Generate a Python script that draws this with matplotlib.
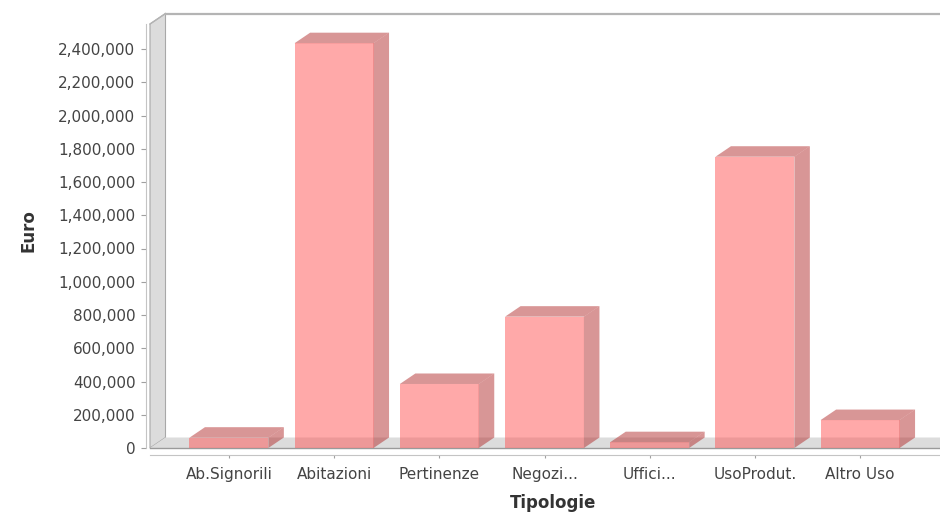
import matplotlib
matplotlib.use("Agg")
import matplotlib.pyplot as plt
from matplotlib.patches import Polygon
from matplotlib.ticker import FuncFormatter

categories = ["Ab.Signorili", "Abitazioni", "Pertinenze", "Negozi...", "Uffici...", "UsoProdut.", "Altro Uso"]
values = [62000, 2435000, 385000, 790000, 35000, 1752000, 168000]
y_ticks = [0, 200000, 400000, 600000, 800000, 1000000, 1200000, 1400000,
           1600000, 1800000, 2000000, 2200000, 2400000]

W, H = 940, 514
fig = plt.figure(figsize=(W / 100, H / 100), dpi=100)
fig.patch.set_facecolor("white")

# front data area in pixels
x0, x1, yb, yt = 150, 939, 448, 24
ax = fig.add_axes([x0 / W, (H - yb) / H, (x1 - x0) / W, (yb - yt) / H])
ax.set_facecolor("none")

xmin, xmax = -0.75, 6.75
ymax = 2400000 * (yb - yt) / (448 - 49)
ax.set_xlim(xmin, xmax)
ax.set_ylim(0, ymax)

px_x = (xmax - xmin) / (x1 - x0)
px_y = ymax / (yb - yt)
DX = 15.5 * px_x
DY = 10.5 * px_y

wall_col = "#dcdcdc"
edge_col = "#a8a8a8"

# left wall
ax.add_patch(Polygon([(xmin, 0), (xmin, ymax), (xmin + DX, ymax + DY), (xmin + DX, DY)],
                     closed=True, facecolor=wall_col, edgecolor=edge_col, lw=0.8,
                     clip_on=False, zorder=1))
# floor
ax.add_patch(Polygon([(xmin, 0), (xmax + 2, 0), (xmax + 2 + DX, DY), (xmin + DX, DY)],
                     closed=True, facecolor=wall_col, edgecolor="none", lw=0,
                     clip_on=False, zorder=1))
ax.plot([xmin, xmax + 2], [0, 0], color="#9a9a9a", lw=1.0, clip_on=False, zorder=1.5)
# top outline of back plane
ax.plot([xmin + DX, xmax + 2], [ymax + DY, ymax + DY], color="#b4b4b4", lw=1.6,
        clip_on=False, zorder=1.5)
ax.plot([xmin, xmin + DX], [ymax, ymax + DY], color="#b4b4b4", lw=1.0,
        clip_on=False, zorder=1.5)

# bars
bw = 0.75
front_c = (1.0, 0.333, 0.333, 0.5)
side_c = (0.70, 0.18, 0.18, 0.5)
for i, v in enumerate(values):
    l, r = i - bw / 2, i + bw / 2
    ax.add_patch(Polygon([(l, 0), (r, 0), (r, v), (l, v)], closed=True,
                         facecolor=front_c, edgecolor="none", clip_on=False, zorder=3))
    ax.add_patch(Polygon([(r, 0), (r + DX, DY), (r + DX, v + DY), (r, v)], closed=True,
                         facecolor=side_c, edgecolor="none", clip_on=False, zorder=3))
    ax.add_patch(Polygon([(l, v), (l + DX, v + DY), (r + DX, v + DY), (r, v)], closed=True,
                         facecolor=side_c, edgecolor="none", clip_on=False, zorder=3))

# axes styling
for s in ["top", "right"]:
    ax.spines[s].set_visible(False)
ax.spines["left"].set_position(("outward", 3))
ax.spines["left"].set_color("#c4c4c4")
ax.spines["bottom"].set_position(("outward", 5))
ax.spines["bottom"].set_color("#c4c4c4")
ax.spines["bottom"].set_bounds(xmin, xmax + 1)

ax.set_yticks(y_ticks)
ax.yaxis.set_major_formatter(FuncFormatter(lambda v, p: f"{int(v):,}"))
ax.set_xticks(range(len(categories)))
ax.set_xticklabels(categories)
ax.tick_params(axis="y", length=3.5, width=0.8, color="#a0a0a0", labelsize=11,
               labelcolor="#444444", pad=4)
ax.tick_params(axis="x", length=2.5, width=0.8, color="#a0a0a0", labelsize=11,
               labelcolor="#444444", pad=6)

fig.text(28.5 / W, 1 - 231 / H, "Euro", rotation=90, fontsize=12, fontweight="bold",
         color="#333333", ha="center", va="center")
fig.text(553 / W, 1 - 503 / H, "Tipologie", fontsize=12, fontweight="bold",
         color="#333333", ha="center", va="center")

fig.savefig("out.png", dpi=100, facecolor="white")
